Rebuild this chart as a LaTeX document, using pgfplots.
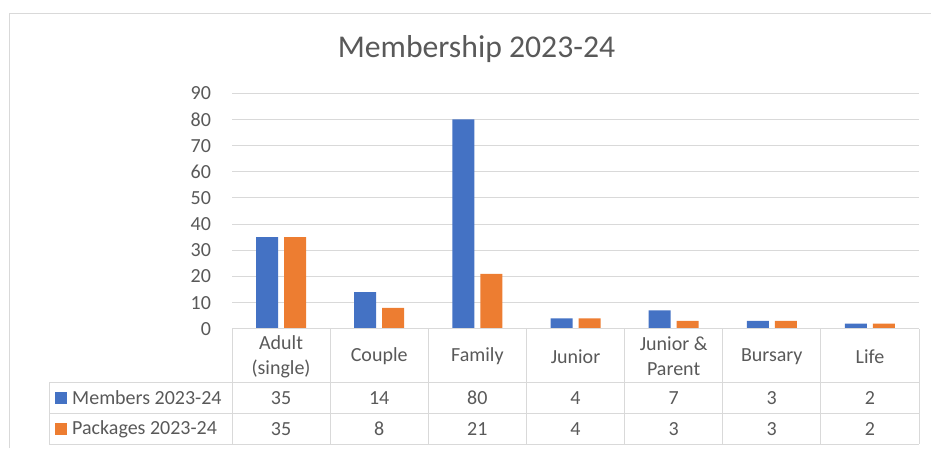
\documentclass[border=0pt]{standalone}
\usepackage{pgfplots}
\pgfplotsset{compat=1.18}
\usepackage{pgfplotstable}
\usepackage{fontspec}
\setmainfont{Carlito}
\definecolor{mblue}{HTML}{4472C4}
\definecolor{morange}{HTML}{ED7D31}
\definecolor{tgray}{HTML}{595959}
\definecolor{lgray}{HTML}{D9D9D9}
\pgfplotstableread{
x members packages
0 35 35
1 14 8
2 80 21
3 4 4
4 7 3
5 3 3
6 2 2
}\data
\newcommand{\lab}{\fontsize{20}{25}\selectfont}
\begin{document}
\begin{tikzpicture}[x=1pt,y=1pt]
\path[use as bounding box] (0,0) rectangle (931,-448);
\draw[lgray, line width=1pt] (9,-448) -- (9,-13) -- (931,-13);
\node[anchor=base, text=tgray, font=\fontsize{31.7}{36}\selectfont, inner sep=0] at (476.5,-57.3) {Membership 2023-24};
\begin{axis}[
  at={(232pt,-328.8pt)}, anchor=south west,
  scale only axis, width=687pt, height=235.5pt,
  xmin=-0.5, xmax=6.5, ymin=0, ymax=90,
  ytick={0,10,...,90}, xtick={0,...,6},
  xticklabels={{Adult\\(single)},Couple,Family,Junior,{Junior \&\\Parent},Bursary,Life},
  ymajorgrids, grid style={draw=lgray, line width=1pt},
  axis line style={draw=none}, major tick length=0pt,
  /pgf/number format/assume math mode=true,
  xticklabel style={anchor=center, yshift=-27.5pt, align=center, font=\lab, text=tgray},
  yticklabel style={anchor=east, xshift=-17.5pt, font=\lab, text=tgray},
  clip=false,
]
\addplot[ybar, bar width=22pt, bar shift=-14pt, fill=mblue, draw=none] table[x=x, y=members] {\data};
\addplot[ybar, bar width=22pt, bar shift=14pt, fill=morange, draw=none] table[x=x, y=packages] {\data};
\addplot[draw=none, nodes near coords, point meta=explicit,
  nodes near coords style={anchor=center, font=\lab, text=tgray}]
  table[x=x, y expr=-26.3, meta=members] {\data};
\addplot[draw=none, nodes near coords, point meta=explicit,
  nodes near coords style={anchor=center, font=\lab, text=tgray}]
  table[x=x, y expr=-38.25, meta=packages] {\data};
\end{axis}
\begin{scope}[lgray, line width=1pt]
\draw (232,-328.8) -- (919,-328.8);
\draw (49,-382) -- (919,-382);
\draw (49,-413.3) -- (919,-413.3);
\draw (49,-444.3) -- (919,-444.3);
\draw (49,-382) -- (49,-444.3);
\foreach \k in {0,...,7} \draw ({232+\k*98.143},-328.8) -- ({232+\k*98.143},-444.3);
\end{scope}
\fill[mblue] (55,-391.7) rectangle (67,-403.7);
\fill[morange] (55,-423) rectangle (67,-435);
\node[anchor=west, inner sep=0, font=\lab, text=tgray] at (72,-397.7) {Members 2023-24};
\node[anchor=west, inner sep=0, font=\lab, text=tgray] at (72,-428.8) {Packages 2023-24};
\end{tikzpicture}
\end{document}
